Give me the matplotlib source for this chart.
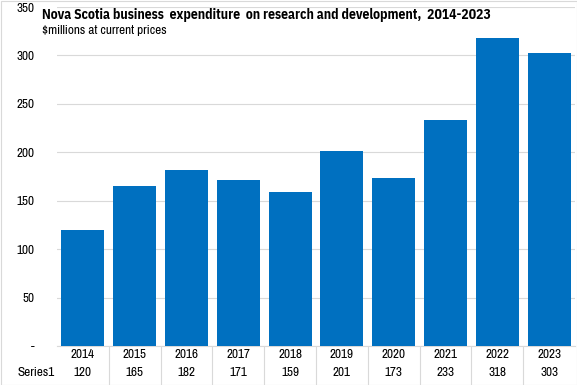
import matplotlib
matplotlib.use("Agg")
import matplotlib.pyplot as plt
from matplotlib import font_manager as fm
from matplotlib.transforms import blended_transform_factory
from matplotlib.lines import Line2D

years = ["2014", "2015", "2016", "2017", "2018", "2019", "2020", "2021", "2022", "2023"]
values = [120, 165, 182, 171, 159, 201, 173, 233, 318, 303]
yticks = [0, 50, 100, 150, 200, 250, 300, 350]
ytick_labels = ["-", "50", "100", "150", "200", "250", "300", "350"]
series_name = "Series1"
title = "Nova Scotia business  expenditure  on research and development,  2014-2023"
subtitle = "$millions at current prices"

fonts = fm.fontManager.ttflist
names = {f.name for f in fonts}
fam = next((n for n in ["Archivo Narrow", "IBM Plex Sans Condensed", "Fira Sans Condensed", "Liberation Sans"] if n in names))
bold_names = {f.name for f in fonts if f.weight in (600, 700, "bold", "semibold")}
title_fam = next((n for n in ["IBM Plex Sans Condensed", "Fira Sans Condensed", "Encode Sans Condensed", "Barlow Semi Condensed", "Liberation Sans"] if n in bold_names), "DejaVu Sans")
plt.rcParams["font.family"] = [fam, "DejaVu Sans"]

W, H = 577, 385
fig = plt.figure(figsize=(W / 100, H / 100), dpi=100)
L, R, T, B = 57, 575, 7, 346
ax = fig.add_axes([L / W, (H - B) / H, (R - L) / W, (B - T) / H])

x = list(range(len(years)))
ax.bar(x, values, width=0.83, color="#0070C0", zorder=3)
ax.set_xlim(-0.5, len(years) - 0.5)
ax.set_ylim(0, 350)
ax.set_yticks(yticks)
ax.set_yticklabels(ytick_labels, fontsize=9.5)
ax.tick_params(axis="y", length=0, pad=16)
ax.set_xticks([])
ax.grid(axis="y", color="#d9d9d9", linewidth=0.8, zorder=0)
for s in ["top", "right", "left"]:
    ax.spines[s].set_visible(False)
ax.spines["bottom"].set_color("#d9d9d9")
ax.spines["bottom"].set_linewidth(0.8)

# data table
tr = blended_transform_factory(ax.transData, fig.transFigure)
y_row1 = (H - 355) / H
y_row2 = (H - 373) / H
for i, (yr, v) in enumerate(zip(years, values)):
    ax.text(i, y_row1, yr, transform=tr, ha="center", va="center", fontsize=9.5, clip_on=False)
    ax.text(i, y_row2, str(v), transform=tr, ha="center", va="center", fontsize=9.5, clip_on=False)
fig.text(36 / W, y_row2, series_name, ha="center", va="center", fontsize=9.5)
for i in range(len(years) - 1):
    ax.add_line(Line2D([i + 0.5, i + 0.5], [(H - 347) / H, (H - 384) / H], transform=tr,
                       color="#d9d9d9", linewidth=0.8, clip_on=False))

# figure border
fig.add_artist(plt.Rectangle((0.5 / W, 0.5 / H), (W - 1) / W, (H - 1) / H, transform=fig.transFigure,
                             fill=False, edgecolor="#d9d9d9", linewidth=0.8))

fig.text(42 / W, (H - 15) / H, title, fontsize=9.8, fontweight="bold", ha="left", va="center",
         family=[title_fam, "DejaVu Sans"])
fig.text(42 / W, (H - 31) / H, subtitle, fontsize=9.5, ha="left", va="center")

fig.savefig("out.png", dpi=100)
